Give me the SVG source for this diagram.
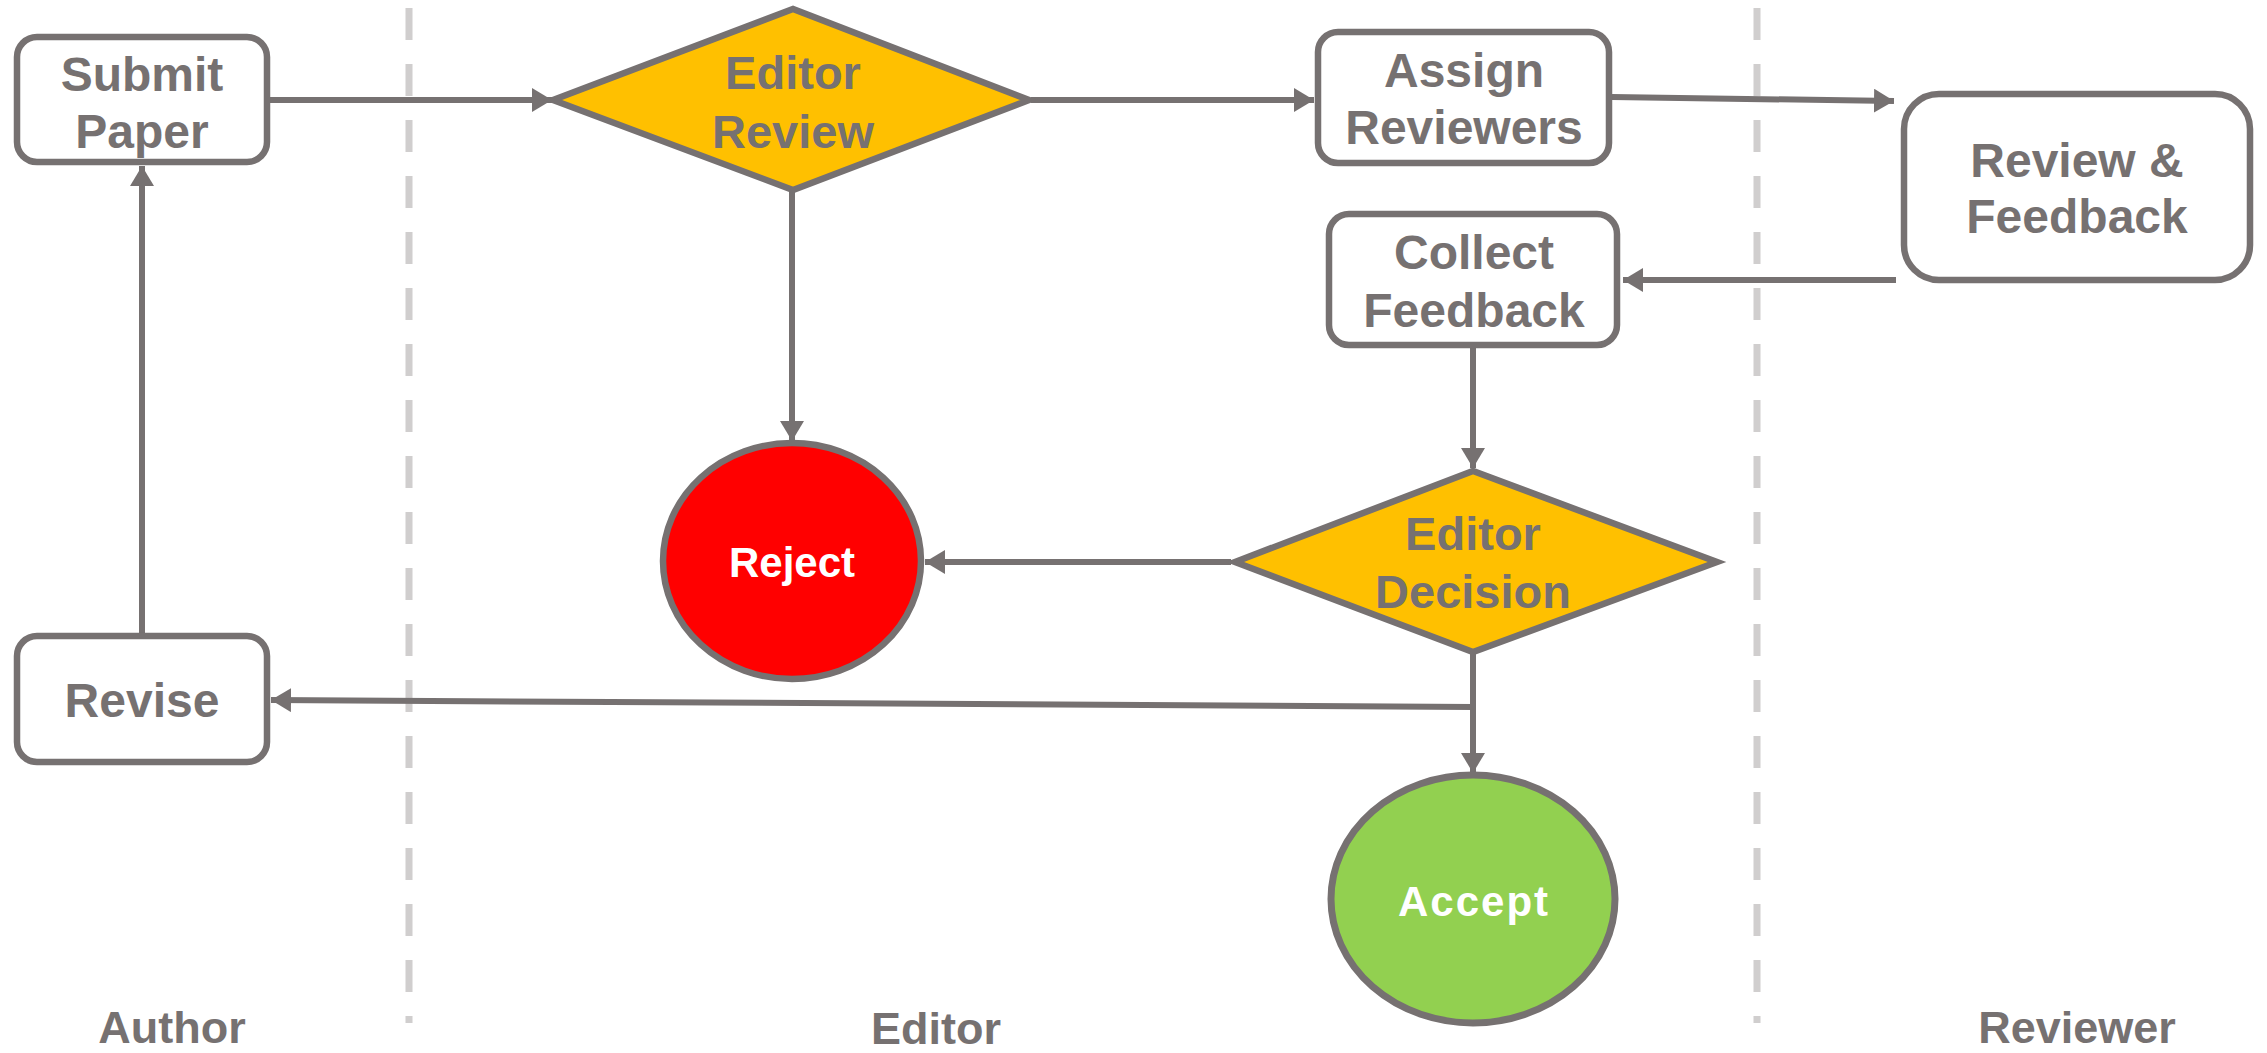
<svg xmlns="http://www.w3.org/2000/svg" width="2267" height="1053" viewBox="0 0 2267 1053">
<style>
.box{fill:#FFFFFF;stroke:#767171;stroke-width:6.5}
.dia{fill:#FFC000;stroke:#767171;stroke-width:6.5}
.lbl{font-family:"Liberation Sans",Arial,sans-serif;font-weight:bold;font-size:48px;fill:#767171;text-anchor:middle}
.dl{font-size:47px}
.wt{fill:#FFFFFF;font-size:42px}
.lane{font-size:45px}
.edge{fill:none;stroke:#767171;stroke-width:6}
.sep{stroke:#D0CECE;stroke-width:7;stroke-dasharray:32 24}
</style>
<defs>
<marker id="ah" markerUnits="userSpaceOnUse" markerWidth="20" markerHeight="24" refX="20" refY="12" orient="auto">
<path d="M0,0 L20,12 L0,24 z" fill="#767171"/>
</marker>
</defs>
<g id="lanes">
<line class="sep" x1="409" y1="8" x2="409" y2="1023"/>
<line class="sep" x1="1757" y1="8" x2="1757" y2="1023"/>
<text class="lbl lane" x="172" y="1043">Author</text>
<text class="lbl lane" x="936" y="1044">Editor</text>
<text class="lbl lane" x="2077" y="1043">Reviewer</text>
</g>
<g id="connectors">
<path class="edge" d="M270,100 L552,100" marker-end="url(#ah)"/>
<path class="edge" d="M1031,100 L1314,100" marker-end="url(#ah)"/>
<path class="edge" d="M1612,97 L1894,101" marker-end="url(#ah)"/>
<path class="edge" d="M1896,280 L1623,280" marker-end="url(#ah)"/>
<path class="edge" d="M1473,348 L1473,468" marker-end="url(#ah)"/>
<path class="edge" d="M1231,562 L925,562" marker-end="url(#ah)"/>
<path class="edge" d="M792,190 L792,441" marker-end="url(#ah)"/>
<path class="edge" d="M1473,652 L1473,773" marker-end="url(#ah)"/>
<path class="edge" d="M1473,707 L271,700" marker-end="url(#ah)"/>
<path class="edge" d="M142,636 L142,166" marker-end="url(#ah)"/>
</g>
<g id="submit">
<rect class="box" x="17" y="37" width="250" height="125" rx="20"/>
<text class="lbl" x="142" y="91">Submit</text>
<text class="lbl" x="142" y="148">Paper</text>
</g>
<g id="editor-review">
<polygon class="dia" points="553,100 793,9 1029,100 793,190"/>
<text class="lbl dl" x="793" y="89">Editor</text>
<text class="lbl dl" x="793" y="148">Review</text>
</g>
<g id="assign">
<rect class="box" x="1318" y="32" width="291" height="131" rx="20"/>
<text class="lbl" x="1464" y="87">Assign</text>
<text class="lbl" x="1464" y="144">Reviewers</text>
</g>
<g id="review-feedback">
<rect class="box" x="1904" y="94" width="346" height="186" rx="35"/>
<text class="lbl" x="2077" y="177">Review &amp;</text>
<text class="lbl" x="2077" y="233">Feedback</text>
</g>
<g id="collect">
<rect class="box" x="1329" y="214" width="288" height="131" rx="20"/>
<text class="lbl" x="1474" y="269">Collect</text>
<text class="lbl" x="1474" y="327">Feedback</text>
</g>
<g id="editor-decision">
<polygon class="dia" points="1235,562 1473,471 1717,562 1473,652"/>
<text class="lbl dl" x="1473" y="550">Editor</text>
<text class="lbl dl" x="1473" y="608">Decision</text>
</g>
<g id="reject">
<ellipse cx="792" cy="561" rx="129" ry="118" fill="#FF0000" stroke="#767171" stroke-width="6.5"/>
<text class="lbl wt" x="792" y="577">Reject</text>
</g>
<g id="revise">
<rect class="box" x="17" y="636" width="250" height="126" rx="20"/>
<text class="lbl" x="142" y="717">Revise</text>
</g>
<g id="accept">
<ellipse cx="1473" cy="899" rx="142" ry="124" fill="#92D050" stroke="#767171" stroke-width="7"/>
<text class="lbl wt" x="1474" y="916" letter-spacing="2">Accept</text>
</g>
</svg>
